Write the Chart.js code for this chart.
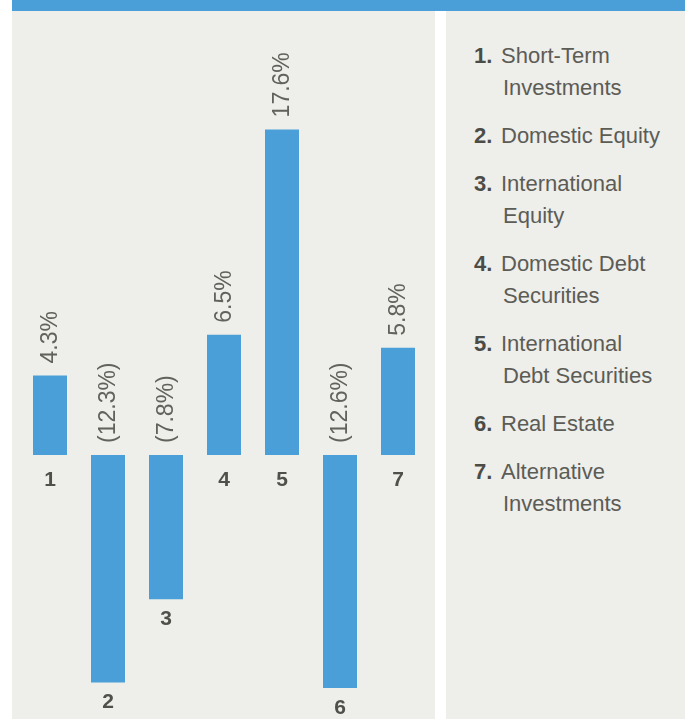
<!DOCTYPE html>
<html>
<head>
<meta charset="utf-8">
<script src="https://cdn.jsdelivr.net/npm/chart.js@4.4.1/dist/chart.umd.min.js"></script>
<style>
    body { margin: 0; background: #ffffff; width: 685px; height: 719px; overflow: hidden; position: relative; font-family: "Liberation Sans", Arial, sans-serif; }
    #topBand { position: absolute; left: 12px; top: 0; width: 673px; height: 11px; background: #4a9fd8; }
    #chartPanel { position: absolute; left: 12px; top: 11px; width: 423px; height: 708px; background: #eeeeea; }
    #legendPanel { position: absolute; left: 446px; top: 11px; width: 239px; height: 708px; background: #eeeeea; }
    #legendList { position: absolute; left: 28px; top: 29px; }
    .item { display: flex; margin-bottom: 16px; font-size: 22px; line-height: 32px; color: #5c5c56; white-space: nowrap; }
    .item .num { width: 27px; font-weight: bold; color: #4c4c47; }
    .item .txt div + div { padding-left: 2px; }
</style>
</head>
<body>
<div id="topBand"></div>
<div id="chartPanel"><canvas id="returnsChart" width="423" height="708"></canvas></div>
<div id="legendPanel"><div id="legendList"></div></div>

<script>
// data ===================================
const categories = ['1', '2', '3', '4', '5', '6', '7'];
const returns = [4.3, -12.3, -7.8, 6.5, 17.6, -12.6, 5.8];
const legendNames = [
    ['Short-Term', 'Investments'],
    ['Domestic Equity'],
    ['International', 'Equity'],
    ['Domestic Debt', 'Securities'],
    ['International', 'Debt Securities'],
    ['Real Estate'],
    ['Alternative', 'Investments']
];

const barColor = '#4a9fd8';

// legend (plain html) ===================================
const legendList = document.getElementById('legendList');
categories.forEach((cat, i) => {
    const item = document.createElement('div');
    item.className = 'item';
    const num = document.createElement('div');
    num.className = 'num';
    num.textContent = cat + '.';
    const txt = document.createElement('div');
    txt.className = 'txt';
    legendNames[i].forEach(line => {
        const l = document.createElement('div');
        l.textContent = line;
        txt.appendChild(l);
    });
    item.appendChild(num);
    item.appendChild(txt);
    legendList.appendChild(item);
});

function formatReturn(v) {
    return v < 0 ? `(${Math.abs(v).toFixed(1)}%)` : `${v.toFixed(1)}%`;
}

// labels above and below bars
const barLabels = {
    id: 'barLabels',
    afterDatasetsDraw(chart) {
        const ctx = chart.ctx;
        const meta = chart.getDatasetMeta(0);
        const yScale = chart.scales.y;
        const zeroY = yScale.getPixelForValue(0);
        ctx.save();
        meta.data.forEach((bar, i) => {
            const v = returns[i];
            const topY = v >= 0 ? bar.y : zeroY;
            const bottomY = v >= 0 ? zeroY : bar.y;

            // value, rotated
            ctx.save();
            ctx.translate(bar.x + 1, topY - 12);
            ctx.rotate(-Math.PI / 2);
            ctx.font = '23px "Liberation Sans", Arial, sans-serif';
            ctx.fillStyle = '#62625c';
            ctx.textAlign = 'left';
            ctx.textBaseline = 'middle';
            ctx.fillText(formatReturn(v), 0, 0);
            ctx.restore();

            // category number
            ctx.font = 'bold 21px "Liberation Sans", Arial, sans-serif';
            ctx.fillStyle = '#50504b';
            ctx.textAlign = 'center';
            ctx.textBaseline = 'middle';
            ctx.fillText(categories[i], bar.x, bottomY + (v >= 0 ? 25 : 20));
        });
        ctx.restore();
    }
};

const ctx = document.getElementById('returnsChart').getContext('2d');
new Chart(ctx, {
    type: 'bar',
    data: {
        labels: categories,
        datasets: [{
            data: returns,
            backgroundColor: barColor,
            borderWidth: 0,
            categoryPercentage: 1,
            barPercentage: 0.586
        }]
    },
    options: {
        responsive: false,
        animation: false,
        layout: { padding: { left: 9, right: 8, top: 74, bottom: 5 } },
        plugins: {
            legend: { display: false },
            tooltip: { enabled: false }
        },
        scales: {
            x: { display: false },
            y: { display: false, min: -14, max: 20 }
        }
    },
    plugins: [barLabels]
});
</script>
</body>
</html>
